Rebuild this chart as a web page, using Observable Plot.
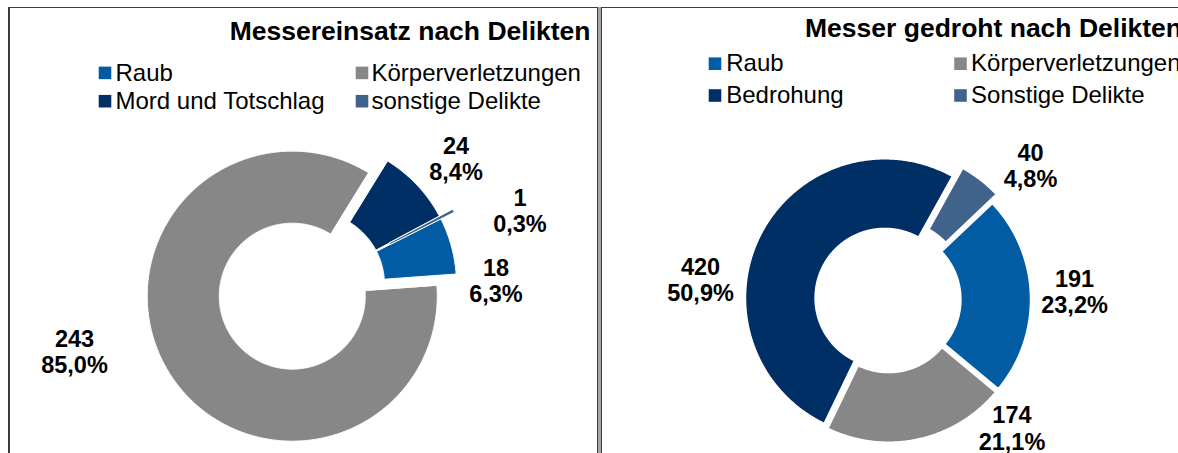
<!DOCTYPE html>
<html>
<head>
<meta charset="utf-8">
<script src="https://cdn.jsdelivr.net/npm/d3@7"></script>
<script src="https://cdn.jsdelivr.net/npm/@observablehq/plot@0.6"></script>
<style>
  html, body { margin: 0; padding: 0; background: #fff; }
  #wrap { position: relative; width: 1178px; height: 453px; overflow: hidden; font-family: "Liberation Sans", Arial, sans-serif; }
  .ln { position: absolute; background: #3c3c3c; }
  #divider { position: absolute; left: 597px; top: 7px; width: 3px; height: 446px; border-left: 1px solid #3c3c3c; border-right: 1px solid #3c3c3c; background: #a6a6a6; }
  #chart { position: absolute; left: 0; top: 0; }
</style>
</head>
<body>
<div id="wrap">
  <div class="ln" style="left:8px;top:7px;width:1170px;height:1px;"></div>
  <div class="ln" style="left:8px;top:7px;width:2px;height:446px;"></div>
  <div id="divider"></div>
  <div id="chart"></div>
</div>
<script>
// ---- data ----
const leftTitle = "Messereinsatz nach Delikten";
const leftCategories = ["Raub", "Körperverletzungen", "Mord und Totschlag", "sonstige Delikte"];
const leftValues = [18, 243, 24, 1];

const rightTitle = "Messer gedroht nach Delikten";
const rightCategories = ["Raub", "Körperverletzungen", "Bedrohung", "Sonstige Delikte"];
const rightValues = [191, 174, 420, 40];

// ---- styles / layout (pixel units of the chart frame) ----
const colorDomain = ["Raub", "Körperverletzungen", "Mord und Totschlag", "sonstige Delikte", "Bedrohung", "Sonstige Delikte"];
const colorRange  = ["#025CA4", "#878787", "#002F65", "#41628B", "#002F65", "#41628B"];

const layout = {
  left: {
    cx: 311, cy: 284, R: 145, r: 73, startDeg: 63.2, explode: [0, 22.5, 0, 15], stroke: 1,
    labels: [[88.8, 184.5], [254.2, 246.3], [49.0, 191.5], [70.46, 221.2]],
    title: {x: 590, y: 31, anchor: "end"},
    legend: {swatchX: [104.5, 361.5], textX: [115, 371], rowY: [72.4, 100.7]}
  },
  right: {
    cx: 887.3, cy: 299.1, R: 139.2, r: 69.6, startDeg: 46.5, explode: [3.5, 3.5, 3.5, 12], stroke: 1.5,
    labels: [[87.5, 186.9], [135.95, 178.6], [276, 188.3], [46.8, 195.8]],
    title: {x: 804.5, y: 28.4, anchor: "start"},
    legend: {swatchX: [714.5, 960], textX: [725.7, 970.6], rowY: [63.2, 95]}
  }
};

const W = 1178, H = 453;
const FONT = "Liberation Sans, Arial, sans-serif";

function slices(key, categories, values, L) {
  const s0 = L.startDeg * Math.PI / 180;
  const arcs = d3.pie().sort(null).startAngle(s0).endAngle(s0 + 2 * Math.PI)(values);
  const pts = [];
  arcs.forEach((a, i) => {
    const mid = (a.startAngle + a.endAngle) / 2;
    const ox = L.explode[i] * Math.sin(mid), oy = -L.explode[i] * Math.cos(mid);
    const n = Math.max(2, Math.ceil((a.endAngle - a.startAngle) / (Math.PI / 360)));
    const id = key + i;
    for (let k = 0; k <= n; k++) {
      const t = a.startAngle + (a.endAngle - a.startAngle) * k / n;
      pts.push({id, cat: categories[i], x: L.cx + ox + L.R * Math.sin(t), y: L.cy + oy - L.R * Math.cos(t)});
    }
    for (let k = n; k >= 0; k--) {
      const t = a.startAngle + (a.endAngle - a.startAngle) * k / n;
      pts.push({id, cat: categories[i], x: L.cx + ox + L.r * Math.sin(t), y: L.cy + oy - L.r * Math.cos(t)});
    }
  });
  return pts;
}

function labels(categories, values, L) {
  const total = d3.sum(values);
  return values.map((v, i) => {
    const [deg, rad] = L.labels[i];
    const t = deg * Math.PI / 180;
    return {
      text: `${v}\n${(v / total * 100).toFixed(1).replace(".", ",")}%`,
      x: L.cx + rad * Math.sin(t),
      y: L.cy - rad * Math.cos(t)
    };
  });
}

function legendItems(categories, L) {
  return categories.map((c, i) => ({
    cat: c,
    sx: L.legend.swatchX[i % 2],
    tx: L.legend.textX[i % 2],
    y: L.legend.rowY[Math.floor(i / 2)]
  }));
}

function panelMarks(key, title, categories, values, L) {
  const leg = legendItems(categories, L);
  return [
    Plot.line(slices(key, categories, values, L), {
      x: "x", y: "y", z: "id", fill: "cat", stroke: "white", strokeWidth: L.stroke, curve: "linear-closed"
    }),
    Plot.text(labels(categories, values, L), {
      x: "x", y: "y", text: "text", fontSize: 23.5, fontWeight: "bold", lineHeight: 1.12,
      textAnchor: "middle", lineAnchor: "middle", fill: "black", fontFamily: FONT
    }),
    Plot.text([title], {
      x: () => L.title.x, y: () => L.title.y, text: d => d, textAnchor: L.title.anchor,
      lineAnchor: "middle", fontSize: 26.5, fontWeight: "bold", fill: "black", fontFamily: FONT
    }),
    Plot.dot(leg, {x: "sx", y: "y", fill: "cat", symbol: "square", r: 7.1, stroke: null}),
    Plot.text(leg, {
      x: "tx", y: "y", text: "cat", textAnchor: "start", lineAnchor: "middle",
      fontSize: 24, fill: "black", fontFamily: FONT
    })
  ];
}

const chart = Plot.plot({
  width: W, height: H, margin: 0,
  x: {domain: [0, W], range: [0, W], axis: null},
  y: {domain: [0, H], range: [0, H], axis: null},
  color: {domain: colorDomain, range: colorRange},
  style: {background: "transparent", overflow: "visible", fontFamily: FONT},
  marks: [
    ...panelMarks("L", leftTitle, leftCategories, leftValues, layout.left),
    ...panelMarks("R", rightTitle, rightCategories, rightValues, layout.right)
  ]
});
document.getElementById("chart").appendChild(chart);
</script>
</body>
</html>
